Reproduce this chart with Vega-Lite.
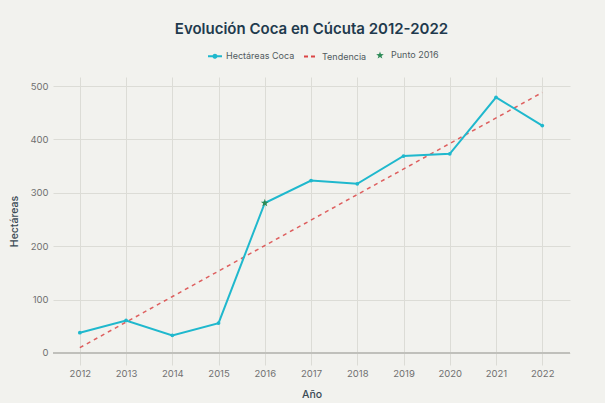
{
  "$schema": "https://vega.github.io/schema/vega-lite/v6.json",
  "width": 517,
  "height": 288,
  "autosize": {"type": "none"},
  "padding": {"left": 53, "top": 77, "right": 35, "bottom": 38},
  "background": "#f2f2ee",
  "title": {
    "text": "Evolución Coca en Cúcuta 2012-2022",
    "font": "Inter",
    "fontSize": 15,
    "fontWeight": 600,
    "color": "#1f3a4d",
    "anchor": "middle",
    "offset": 10
  },
  "datasets": {
    "coca": [
      {"anio": 2012, "valor": 38, "serie": "Hectáreas Coca"},
      {"anio": 2013, "valor": 61, "serie": "Hectáreas Coca"},
      {"anio": 2014, "valor": 33, "serie": "Hectáreas Coca"},
      {"anio": 2015, "valor": 56, "serie": "Hectáreas Coca"},
      {"anio": 2016, "valor": 281, "serie": "Hectáreas Coca"},
      {"anio": 2017, "valor": 323, "serie": "Hectáreas Coca"},
      {"anio": 2018, "valor": 317, "serie": "Hectáreas Coca"},
      {"anio": 2019, "valor": 369, "serie": "Hectáreas Coca"},
      {"anio": 2020, "valor": 373, "serie": "Hectáreas Coca"},
      {"anio": 2021, "valor": 479, "serie": "Hectáreas Coca"},
      {"anio": 2022, "valor": 426, "serie": "Hectáreas Coca"}
    ],
    "tendencia": [
      {"anio": 2012, "valor": 10, "serie": "Tendencia"},
      {"anio": 2022, "valor": 488, "serie": "Tendencia"}
    ],
    "punto": [
      {"anio": 2016, "valor": 281, "serie": "Punto 2016"}
    ]
  },
  "layer": [
    {
      "data": {"values": [{}]},
      "mark": {"type": "rule", "color": "#c0c0bb", "strokeWidth": 2},
      "encoding": {"y": {"datum": 0, "type": "quantitative"}}
    },
    {
      "data": {"name": "tendencia"},
      "mark": {"type": "line", "strokeWidth": 1.5, "strokeDash": [4, 4], "opacity": 0.85},
      "encoding": {
        "x": {
          "field": "anio",
          "type": "quantitative",
          "scale": {"domain": [2011.42, 2022.6], "nice": false, "zero": false},
          "axis": {
            "title": "Año",
            "values": [2012, 2013, 2014, 2015, 2016, 2017, 2018, 2019, 2020, 2021, 2022],
            "format": "d",
            "labelFont": "Inter",
            "labelFontSize": 9.5,
            "labelColor": "#707070",
            "labelPadding": 3,
            "ticks": false,
            "domain": false,
            "grid": true,
            "gridColor": "#dcdcd6",
            "titleFont": "Inter",
            "titleFontSize": 10.5,
            "titleFontWeight": 500,
            "titleColor": "#3a4a55",
            "titlePadding": 12
          }
        },
        "y": {
          "field": "valor",
          "type": "quantitative",
          "scale": {"domain": [-22.5, 517], "nice": false, "zero": false},
          "axis": {
            "title": "Hectáreas",
            "values": [0, 100, 200, 300, 400, 500],
            "labelFont": "Inter",
            "labelFontSize": 9.5,
            "labelColor": "#707070",
            "labelPadding": 5,
            "ticks": false,
            "domain": false,
            "grid": true,
            "gridColor": "#dcdcd6",
            "titleFont": "Inter",
            "titleFontSize": 10.5,
            "titleFontWeight": 500,
            "titleColor": "#3a4a55",
            "titlePadding": 10
          }
        },
        "color": {"value": "#DB4545"}
      }
    },
    {
      "data": {"name": "coca"},
      "mark": {"type": "line", "strokeWidth": 2},
      "encoding": {
        "x": {"field": "anio", "type": "quantitative"},
        "y": {"field": "valor", "type": "quantitative"},
        "color": {"value": "#1FB8CD"}
      }
    },
    {
      "data": {"name": "coca"},
      "mark": {"type": "point", "filled": true, "size": 14, "opacity": 1},
      "encoding": {
        "x": {"field": "anio", "type": "quantitative"},
        "y": {"field": "valor", "type": "quantitative"},
        "color": {"value": "#1FB8CD"}
      }
    },
    {
      "data": {"name": "punto"},
      "mark": {
        "type": "point",
        "shape": "M0,-1L0.235,-0.324L0.951,-0.309L0.38,0.124L0.588,0.809L0,0.4L-0.588,0.809L-0.38,0.124L-0.951,-0.309L-0.235,-0.324Z",
        "filled": true,
        "size": 70,
        "opacity": 1
      },
      "encoding": {
        "x": {"field": "anio", "type": "quantitative"},
        "y": {"field": "valor", "type": "quantitative"},
        "color": {
          "field": "serie",
          "type": "nominal",
          "scale": {
            "domain": ["Hectáreas Coca", "Tendencia", "Punto 2016"],
            "range": ["#1FB8CD", "#DB4545", "#2E8B57"]
          },
          "legend": {
            "title": null,
            "orient": "none",
            "direction": "horizontal",
            "legendX": 154,
            "legendY": -30,
            "labelFont": "Inter",
            "labelFontSize": 9,
            "labelColor": "#505a60",
            "labelOffset": 3,
            "columnPadding": 5,
            "symbolSize": 196,
            "encoding": {
              "symbols": {
                "shape": {"value": {"expr": "datum.value === 'Punto 2016' ? 'M0,-1L0.235,-0.324L0.951,-0.309L0.38,0.124L0.588,0.809L0,0.4L-0.588,0.809L-0.38,0.124L-0.951,-0.309L-0.235,-0.324Z' : datum.value === 'Tendencia' ? 'M-1,0H1' : 'M-1,0H1M0.22,0A0.22,0.22,0,1,1,-0.22,0A0.22,0.22,0,1,1,0.22,0Z'"}},
                "size": {"value": {"expr": "datum.value === 'Punto 2016' ? 64 : 196"}},
                "fill": {"value": {"expr": "datum.value === 'Punto 2016' ? '#2E8B57' : datum.value === 'Hectáreas Coca' ? '#1FB8CD' : 'transparent'"}},
                "stroke": {"value": {"expr": "datum.value === 'Tendencia' ? '#DB4545' : datum.value === 'Hectáreas Coca' ? '#1FB8CD' : 'transparent'"}},
                "strokeWidth": {"value": 2},
                "strokeDash": {"value": {"expr": "datum.value === 'Tendencia' ? [4, 3] : [1, 0]"}},
                "opacity": {"value": 1}
              }
            }
          }
        }
      }
    }
  ],
  "config": {
    "view": {"stroke": null},
    "font": "Inter"
  }
}
